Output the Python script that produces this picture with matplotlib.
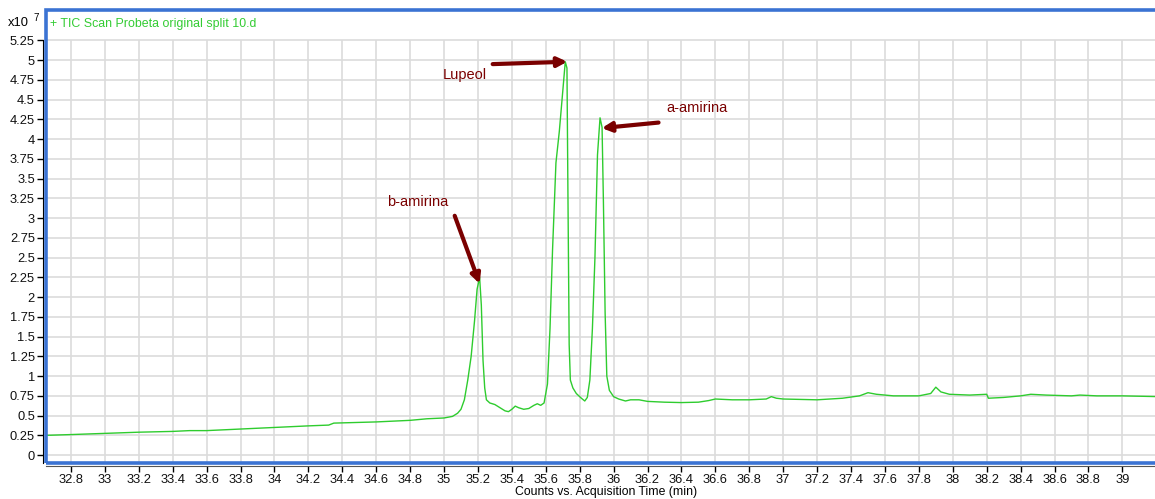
import matplotlib
matplotlib.use("Agg")
import matplotlib.pyplot as plt
from matplotlib.patches import Rectangle
from matplotlib.ticker import FuncFormatter

plt.rcParams['font.family'] = ['Liberation Sans', 'DejaVu Sans']

# Total ion chromatogram (counts in units of 1e7)
time_min = [32.653, 32.8, 33.0, 33.2, 33.4, 33.5, 33.6, 33.8, 34.0, 34.2, 34.32, 34.35,
            34.6, 34.8, 34.9, 35.0, 35.05, 35.08, 35.1, 35.12, 35.14, 35.16, 35.18,
            35.195, 35.21, 35.22, 35.23, 35.24, 35.25, 35.27, 35.3, 35.33, 35.36,
            35.38, 35.40, 35.42, 35.44, 35.47, 35.50, 35.53, 35.55, 35.57, 35.59,
            35.61, 35.625, 35.64, 35.66, 35.68, 35.70, 35.715, 35.725, 35.73, 35.738,
            35.745, 35.76, 35.78, 35.81, 35.83, 35.845, 35.86, 35.875, 35.89, 35.905,
            35.92, 35.932, 35.94, 35.95, 35.96, 35.975, 36.0, 36.03, 36.07, 36.1,
            36.15, 36.2, 36.3, 36.4, 36.5, 36.56, 36.6, 36.7, 36.8, 36.9, 36.93,
            36.96, 37.0, 37.2, 37.35, 37.45, 37.5, 37.55, 37.65, 37.8, 37.87, 37.9,
            37.93, 37.98, 38.1, 38.2, 38.21, 38.3, 38.4, 38.46, 38.55, 38.7, 38.75,
            38.85, 39.0, 39.22]
counts_e7 = [0.25, 0.26, 0.275, 0.29, 0.30, 0.31, 0.31, 0.33, 0.35, 0.37, 0.38, 0.405,
             0.42, 0.44, 0.46, 0.47, 0.49, 0.53, 0.58, 0.70, 0.95, 1.25, 1.70,
             2.10, 2.25, 1.90, 1.20, 0.85, 0.70, 0.66, 0.64, 0.60, 0.56,
             0.55, 0.58, 0.62, 0.60, 0.58, 0.59, 0.63, 0.65, 0.63, 0.66,
             0.90, 1.60, 2.60, 3.70, 4.10, 4.60, 4.98, 4.90, 3.50, 1.40,
             0.95, 0.85, 0.78, 0.72, 0.685, 0.73, 0.95, 1.60, 2.50, 3.80,
             4.27, 4.15, 3.20, 1.80, 1.00, 0.82, 0.74, 0.71, 0.685, 0.70,
             0.70, 0.68, 0.67, 0.665, 0.67, 0.69, 0.71, 0.70, 0.70, 0.71, 0.74,
             0.72, 0.71, 0.70, 0.72, 0.75, 0.79, 0.77, 0.75, 0.75, 0.78, 0.86,
             0.80, 0.77, 0.76, 0.77, 0.72, 0.73, 0.75, 0.77, 0.76, 0.75, 0.76,
             0.75, 0.75, 0.74]

x_ticks = [32.8, 33.0, 33.2, 33.4, 33.6, 33.8, 34.0, 34.2, 34.4, 34.6, 34.8, 35.0,
           35.2, 35.4, 35.6, 35.8, 36.0, 36.2, 36.4, 36.6, 36.8, 37.0, 37.2, 37.4,
           37.6, 37.8, 38.0, 38.2, 38.4, 38.6, 38.8, 39.0]
y_ticks = [0, 0.25, 0.5, 0.75, 1, 1.25, 1.5, 1.75, 2, 2.25, 2.5, 2.75, 3, 3.25,
           3.5, 3.75, 4, 4.25, 4.5, 4.75, 5, 5.25]

# Peak labels: (text, text position, arrow tail, arrow head)
peak_names = ["Lupeol", "a-amirina", "b-amirina"]
label_xy = [(35.12, 4.81), (36.49, 4.39), (34.845, 3.20)]
tail_xy = [(35.287, 4.95), (36.265, 4.21), (35.063, 3.03)]
head_xy = [(35.727, 4.98), (35.93, 4.14), (35.21, 2.17)]

x_lo, x_hi = 32.653, 39.222
y_lo, y_hi = -0.10, 5.635

fig = plt.figure(figsize=(11.55, 4.99), dpi=100)
ax = fig.add_axes([46 / 1155, 36 / 499, (1160 - 46) / 1155, (463 - 10) / 499])
ax.set_xlim(x_lo, x_hi)
ax.set_ylim(y_lo, y_hi)

grid_kw = dict(color='#dcdcdc', lw=1.2, zorder=0)
ax.hlines(y_ticks, x_lo, x_hi, **grid_kw)
ax.vlines(x_ticks, y_lo, y_ticks[-1], **grid_kw)

ax.plot(time_min, counts_e7, color='#2ecc2e', lw=1.0, zorder=3)

arrow_color = '#7a0000'
for name, lxy, t, h in zip(peak_names, label_xy, tail_xy, head_xy):
    ax.text(lxy[0], lxy[1], name, color=arrow_color, fontsize=10.5,
            ha='center', va='center')
    ax.annotate('', xy=h, xytext=t,
                arrowprops=dict(arrowstyle='-|>', color=arrow_color, lw=3,
                                mutation_scale=14, shrinkA=0, shrinkB=0),
                zorder=4)

# Axes: black outward spines, blue frame
for s in ['top', 'right']:
    ax.spines[s].set_visible(False)
ax.spines['left'].set_position(('outward', 2))
ax.spines['left'].set_bounds(y_lo, y_ticks[-1])
ax.spines['bottom'].set_position(('outward', 2))
ax.spines['left'].set_color('black')
ax.spines['bottom'].set_color('#555555')
ax.add_patch(Rectangle((0, 0), 1, 1, transform=ax.transAxes, fill=False,
                       edgecolor='#3b73d3', lw=2.6, clip_on=False, zorder=5))

ax.set_xticks(x_ticks)
ax.set_yticks(y_ticks)
ax.xaxis.set_major_formatter(FuncFormatter(lambda v, p: f"{v:g}"))
ax.yaxis.set_major_formatter(FuncFormatter(lambda v, p: f"{v:g}"))
ax.tick_params(axis='both', direction='out', length=4, width=1, color='black',
               labelsize=9.3, labelcolor='#111111', pad=2)

fig.text(606 / 1155, 1 - 492 / 499, 'Counts vs. Acquisition Time (min)',
         fontsize=8.8, ha='center', va='center')

fig.text(8 / 1155, 1 - 23 / 499, 'x10', fontsize=9.3, ha='left', va='center')
fig.text(33 / 1155, 1 - 18 / 499, '7', fontsize=7, ha='left', va='center')
fig.text(50 / 1155, 1 - 24 / 499, '+ TIC Scan Probeta original split 10.d',
         fontsize=8.9, color='#33cc33', ha='left', va='center')

fig.savefig('out.png', dpi=100)
